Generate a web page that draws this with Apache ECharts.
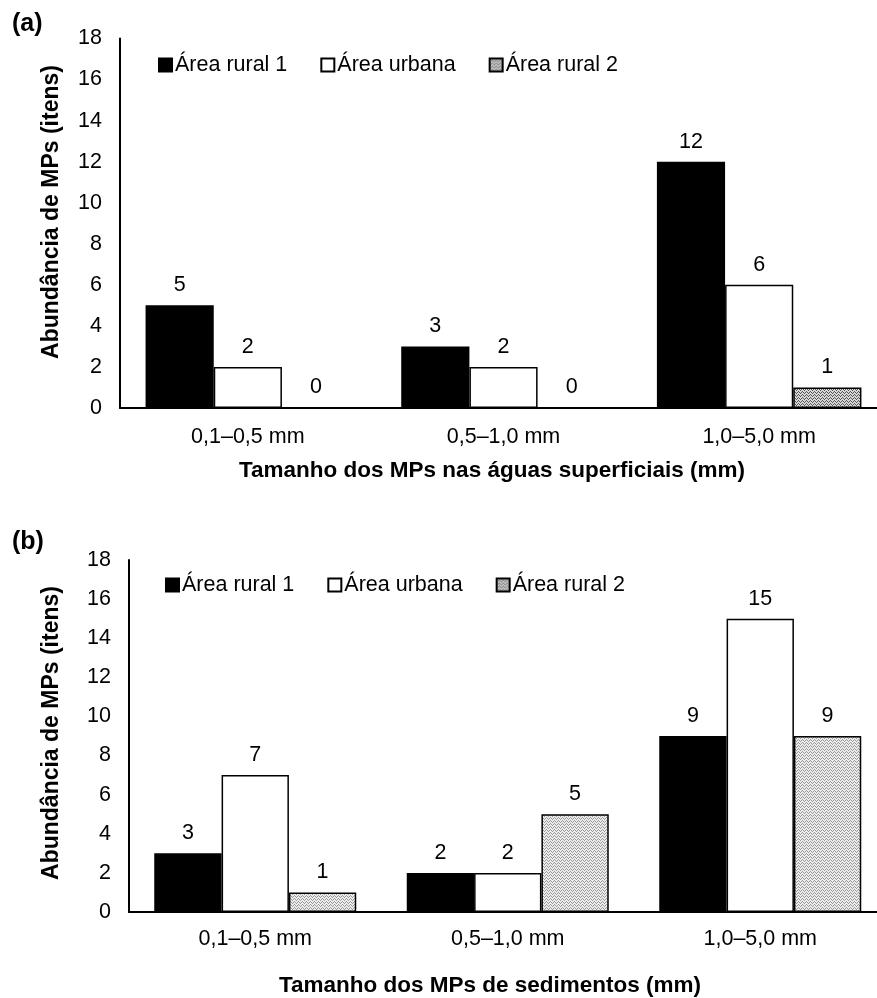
<!DOCTYPE html>
<html>
<head>
<meta charset="utf-8">
<script src="https://cdn.jsdelivr.net/npm/echarts@6/dist/echarts.min.js"></script>
<style>
  html, body { margin: 0; padding: 0; background: #fff; overflow: hidden; }
  #chart { width: 900px; height: 998px; }
</style>
</head>
<body>
<div id="chart"></div>
<script>
let categories = ['0,1–0,5 mm', '0,5–1,0 mm', '1,0–5,0 mm']
let seriesNames = ['Área rural 1', 'Área urbana', 'Área rural 2']

// (a) águas superficiais
let aguaRural1 = [5, 3, 12]
let aguaUrbana = [2, 2, 6]
let aguaRural2 = [0, 0, 1]

// (b) sedimentos
let sedRural1 = [3, 2, 9]
let sedUrbana = [7, 2, 15]
let sedRural2 = [1, 5, 9]

let yTicks = { min: 0, max: 18, interval: 2 }

let font = 'Liberation Sans, Arial, sans-serif'
let fs = 21.5

// dotted fill like the excel pattern
function dotPattern(bg, dot) {
    let c = document.createElement('canvas')
    c.width = 4
    c.height = 3
    let ctx = c.getContext('2d')
    ctx.fillStyle = bg
    ctx.fillRect(0, 0, 4, 3)
    ctx.fillStyle = dot
    ctx.fillRect(0, 0, 1, 1)
    ctx.fillRect(2, 1, 1, 1)
    ctx.fillRect(1, 2, 1, 1)
    ctx.fillRect(3, 2, 1, 1)
    return { image: c, repeat: 'repeat' }
}

let patternA = dotPattern('#d8d8d8', '#555')
let patternB = dotPattern('#ececec', '#9a9a9a')

function makeSeries(name, data, fill, idx) {
    return {
        name: name,
        type: 'bar',
        xAxisIndex: idx,
        yAxisIndex: idx,
        data: data,
        barGap: '0%',
        barCategoryGap: '20%',
        itemStyle: { color: fill, borderColor: '#000', borderWidth: 1.5 },
        label: {
            show: true,
            position: 'top',
            distance: 9,
            color: '#000',
            fontFamily: font,
            fontSize: fs
        }
    }
}

function makeLegend(names, left, top, gap) {
    return {
        data: names,
        left: left,
        top: top,
        orient: 'horizontal',
        itemWidth: 13,
        itemHeight: 13,
        itemGap: gap,
        icon: 'rect',
        textStyle: { fontFamily: font, fontSize: fs, color: '#000', padding: [0, 0, 0, -2] }
    }
}

let chart = echarts.init(document.getElementById('chart'))

let xAxisBase = {
    type: 'category',
    data: categories,
    axisLine: { lineStyle: { color: '#000', width: 2 } },
    axisTick: { show: false },
    axisLabel: { color: '#000', fontFamily: font, fontSize: fs }
}
let yAxisBase = {
    type: 'value',
    min: yTicks.min,
    max: yTicks.max,
    interval: yTicks.interval,
    axisLine: { show: true, lineStyle: { color: '#000', width: 2 } },
    axisTick: { show: false },
    splitLine: { show: false },
    axisLabel: { color: '#000', fontFamily: font, fontSize: fs, margin: 18 }
}

let boldTitle = { fontFamily: font, fontWeight: 'bold', fontSize: 22.5, fill: '#000', textAlign: 'center', textVerticalAlign: 'middle' }

chart.setOption({
    animation: false,
    grid: [
        { left: 120, top: 38.5, width: 767, height: 369.5 },
        { left: 129, top: 560, width: 757.5, height: 352 }
    ],
    xAxis: [
        Object.assign({}, xAxisBase, { gridIndex: 0, axisLabel: Object.assign({}, xAxisBase.axisLabel, { margin: 18 }) }),
        Object.assign({}, xAxisBase, { gridIndex: 1, axisLabel: Object.assign({}, xAxisBase.axisLabel, { margin: 16 }) })
    ],
    yAxis: [
        Object.assign({}, yAxisBase, { gridIndex: 0 }),
        Object.assign({}, yAxisBase, { gridIndex: 1 })
    ],
    legend: [
        makeLegend(seriesNames, 153, 49, 33),
        makeLegend(seriesNames, 160, 569, 33)
    ],
    series: [
        makeSeries(seriesNames[0], aguaRural1, '#000', 0),
        makeSeries(seriesNames[1], aguaUrbana, '#fff', 0),
        makeSeries(seriesNames[2], aguaRural2, patternA, 0),
        makeSeries(seriesNames[0], sedRural1, '#000', 1),
        makeSeries(seriesNames[1], sedUrbana, '#fff', 1),
        makeSeries(seriesNames[2], sedRural2, patternB, 1)
    ],
    graphic: [
        { type: 'text', left: 12, top: 12, style: { text: '(a)', fontFamily: font, fontWeight: 'bold', fontSize: 25, fill: '#000' } },
        { type: 'text', left: 12, top: 530, style: { text: '(b)', fontFamily: font, fontWeight: 'bold', fontSize: 25, fill: '#000' } },
        { type: 'text', x: 52, y: 212, rotation: Math.PI / 2, style: Object.assign({ text: 'Abundância de MPs (itens)' }, boldTitle, { fontSize: 23 }) },
        { type: 'text', x: 52, y: 733, rotation: Math.PI / 2, style: Object.assign({ text: 'Abundância de MPs (itens)' }, boldTitle, { fontSize: 23 }) },
        { type: 'text', x: 492, y: 471, style: Object.assign({ text: 'Tamanho dos MPs nas águas superficiais (mm)' }, boldTitle) },
        { type: 'text', x: 490, y: 986, style: Object.assign({ text: 'Tamanho dos MPs de sedimentos (mm)' }, boldTitle) }
    ]
})
</script>
</body>
</html>
